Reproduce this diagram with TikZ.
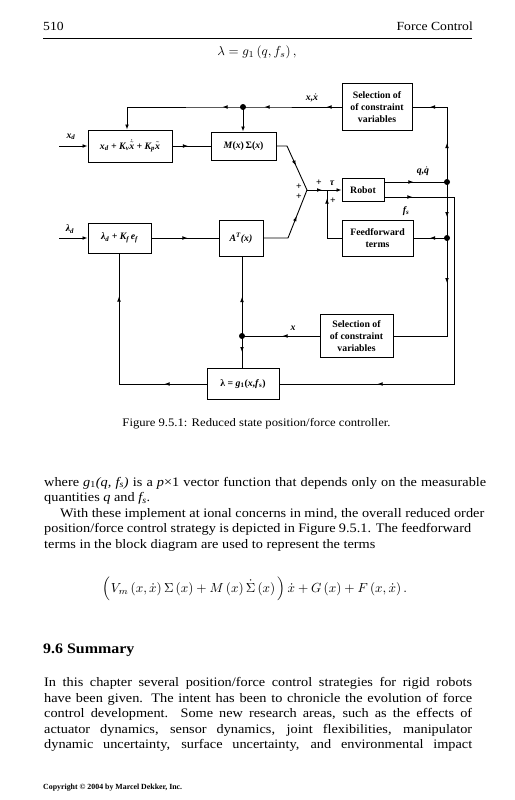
\documentclass[tikz,border=0pt]{standalone}
\usepackage{fontspec}
\usepackage{amsmath}
\setmainfont{Liberation Serif}
\newfontfamily\bodyf{Liberation Serif}[FakeStretch=1.1]
\usetikzlibrary{arrows.meta,decorations.markings,calc}
\newcommand{\vx}[1]{\mbox{#1}}
\tikzset{
  myarr/.tip={Latex[length=5pt,width=3.8pt]},
  blk/.style={draw, line width=0.95pt, inner sep=1pt, align=center,
    font=\fontsize{9.8}{12}\selectfont\bfseries},
  blkm/.style={blk, font=\fontsize{9.8}{12}\selectfont\bfseries\itshape},
  lbl/.style={inner sep=0pt, font=\fontsize{9.8}{11}\selectfont\bfseries\itshape},
  plus/.style={inner sep=0pt, font=\fontsize{9.8}{11}\selectfont\bfseries},
  wire/.style={line width=0.9pt},
  arrat/.style={postaction={decorate,decoration={markings,mark=at position #1 with {\arrow{myarr}}}}},
  txt/.style={anchor=base west, inner sep=0pt, font=\bodyf\fontsize{13}{15}\selectfont},
}
\begin{document}
\begin{tikzpicture}[x=1pt,y=-1pt]
\useasboundingbox (0,0) rectangle (514,800);
\fill[white] (0,0) rectangle (514,800);

% header
\node[anchor=base west, inner sep=0pt, font=\bodyf\fontsize{12.4}{14}\selectfont] (pg) at (43,31) {510};
\node[anchor=base east, inner sep=0pt, font=\bodyf\fontsize{12.4}{14}\selectfont] (hd) at (473,31) {Force Control};
\coordinate (rl) at (43,38);
\coordinate (rr) at (472,38);
\draw[line width=0.7pt] (rl) -- (rr);
\node (eq1) at (257,52) {\resizebox{79pt}{!}{$\lambda=g_1\left(q,f_s\right),$}};

% ---------------- diagram ----------------
\node[blkm, minimum width=84pt, minimum height=32pt] (b1) at (130,146)
  {x\textsubscript{d} + K\textsubscript{v}$\dot{\tilde{\vx{x}}}$ + K\textsubscript{p}$\tilde{\vx{x}}$};
\node[blk, minimum width=65pt, minimum height=28pt] (b2) at (243.5,146)
  {\textit{M}(\textit{x})\,Σ(\textit{x})};
\node[blk, minimum width=70pt, minimum height=47pt] (sel1) at (377,107)
  {Selection of\\of constraint\\variables};
\node[blk, minimum width=42pt, minimum height=23pt] (robot) at (363,190) {Robot};
\node[blk, minimum width=71pt, minimum height=36pt] (ff) at (377.5,238) {Feedforward\\terms};
\node[blkm, minimum width=63pt, minimum height=30pt] (b3) at (119.5,238)
  {λ\textsubscript{d} + K\textsubscript{f}\,e\textsubscript{f}};
\node[blkm, minimum width=44pt, minimum height=36pt] (b4) at (241,238)
  {A\textsuperscript{T}(x)};
\node[blk, minimum width=73pt, minimum height=43pt] (sel2) at (356.5,336)
  {Selection of\\of constraint\\variables};
\node[blk, minimum width=72pt, minimum height=31pt] (b5) at (243,384)
  {λ = \textit{g}\textsubscript{1}(\textit{x},\textit{f}\textsubscript{s})};

\coordinate (xdin) at (59,146);
\coordinate (lin) at (59,238);
\coordinate (tl) at (127,107);
\coordinate (d1) at (243,107);
\coordinate (tr) at (447,107);
\coordinate (d2) at (447,182);
\coordinate (d3) at (447,238);
\coordinate (br) at (447,336);
\coordinate (fsr) at (454,197);
\coordinate (fsb) at (454,384);
\coordinate (j1) at (287,146);
\coordinate (j2) at (288,238);
\coordinate (apex) at (307,190);
\coordinate (ffj) at (327,190);
\coordinate (ffc) at (327,238);
\coordinate (d4) at (242,336);
\coordinate (bl) at (119,384);

% wires
\draw[wire, -myarr, arrat=15pt, arrat=77pt, arrat=119pt] (sel1.west) -- (d1) -- (tl) -- (tl |- b1.north);
\draw[wire, -myarr] (d1) -- (d1 |- b2.north);
\draw[wire, -myarr] (xdin) -- (b1.west);
\draw[wire, arrat=15.5pt] (b1.east) -- (b2.west);
\draw[wire, arrat=32pt] (b2.east) -- (j1) -- (apex);
\draw[wire, arrat=48pt] (b4.east) -- (j2) -- (apex);
\draw[wire, -myarr, arrat=15pt] (apex) -- (robot.west);
\draw[wire, arrat=54pt] (ff.west) -- (ffc) -- (ffj);
\draw[wire, arrat=29pt] (robot.east |- d2) -- (d2);
\draw[wire, arrat=28pt, arrat=333pt] (robot.east |- fsr) -- (fsr) -- (fsb) -- (b5.east |- fsb);
\draw[wire, arrat=39pt, arrat=92pt] (d2) -- (tr) -- (sel1.east);
\draw[wire, arrat=35pt] (d2) -- (d3);
\draw[wire, arrat=17pt] (d3) -- (ff.east);
\draw[wire, arrat=45pt] (d3) -- (br) -- (sel2.east);
\draw[wire, arrat=37pt] (sel2.west) -- (d4);
\draw[wire, arrat=39pt] (d4) -- (d4 |- b4.south);
\draw[wire, arrat=16pt] (d4) -- (d4 |- b5.north);
\draw[wire, arrat=42pt, arrat=175pt] (b5.west) -- (bl) -- (bl |- b3.south);
\draw[wire, -myarr] (lin) -- (b3.west);
\draw[wire, arrat=36pt] (b3.east) -- (b4.west);

\fill (d1) circle (3);
\fill (d2) circle (3);
\fill (d3) circle (3);
\fill (d4) circle (3);

% labels
\node[lbl] (lxd) at (71,137) {x\textsubscript{d}};
\node[lbl] (lld) at (70,229) {λ\textsubscript{d}};
\node[lbl] (lxx) at (312,98) {x,$\dot{\vx{x}}$};
\node[lbl] (lqq) at (423,171) {q,$\dot{\vx{q}}$};
\node[lbl] (lfs) at (406,211) {f\textsubscript{s}};
\node[plus] (p1) at (299,187) {+};
\node[plus] (p2) at (299,197) {+};
\node[plus] (p3) at (319,183) {+};
\node[lbl] (ltau) at (332,183) {τ};
\node[plus] (p4) at (333,201) {+};
\node[lbl] (lx) at (293,328) {x};

% ---------------- text ----------------
\node[anchor=base, inner sep=0pt, font=\bodyf\fontsize{11.5}{13}\selectfont] (cap) at (256.5,426)
  {Figure 9.5.1: Reduced state position/force controller.};

\node[txt] (t1) at (44,486) {\makebox[442pt][s]{where \textit{g}\textsubscript{1}\textit{(q, f\textsubscript{s})} is a \textit{p}×1 vector function that depends only on the measurable}};
\node[txt] (t2) at (44,501.5) {quantities \textit{q} and \textit{f\textsubscript{s}}.};
\node[txt] (t3) at (60,517) {\makebox[424pt][s]{With these implement at ional concerns in mind, the overall reduced order}};
\node[txt] (t4) at (44,532.5) {\makebox[427pt][s]{position/force control strategy is depicted in Figure 9.5.1. The feedforward}};
\node[txt] (t5) at (44,548) {terms in the block diagram are used to represent the terms};

\node (eq2) at (255,589) {\resizebox{304pt}{!}{$\Big(V_m\left(x,\dot{x}\right)\Sigma\left(x\right)+M\left(x\right)\dot{\Sigma}\left(x\right)\Big)\,\dot{x}+G\left(x\right)+F\left(x,\dot{x}\right).$}};

\node[anchor=base west, inner sep=0pt, font=\bodyf\fontsize{14.5}{17}\selectfont\bfseries] (h96) at (43,653) {9.6 Summary};

\node[txt] (s1) at (44,686.5) {\makebox[428pt][s]{In this chapter several position/force control strategies for rigid robots}};
\node[txt] (s2) at (44,702) {\makebox[428pt][s]{have been given. The intent has been to chronicle the evolution of force}};
\node[txt] (s3) at (44,717.5) {\makebox[428pt][s]{control development. Some new research areas, such as the effects of}};
\node[txt] (s4) at (44,733) {\makebox[428pt][s]{actuator dynamics, sensor dynamics, joint flexibilities, manipulator}};
\node[txt] (s5) at (44,748.5) {\makebox[428pt][s]{dynamic uncertainty, surface uncertainty, and environmental impact}};

\node[anchor=base west, inner sep=0pt] (copy) at (43,789) {\resizebox{139pt}{!}{\bfseries Copyright © 2004 by Marcel Dekker, Inc.}};
\end{tikzpicture}
\end{document}
